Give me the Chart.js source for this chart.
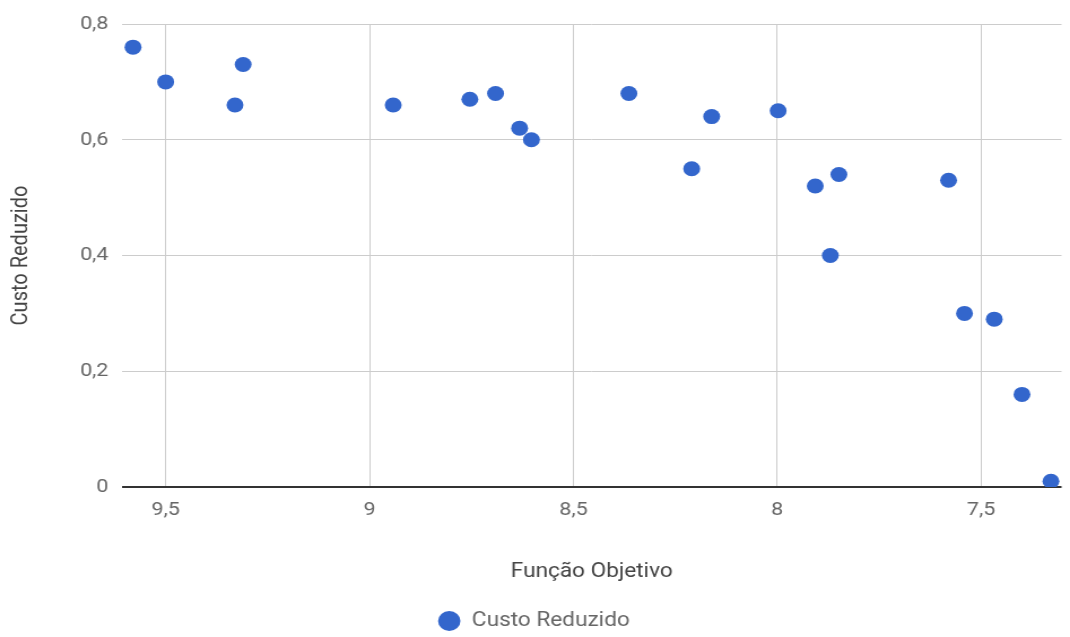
<!DOCTYPE html>
<html>
<head>
<meta charset="utf-8">
<script src="https://cdn.jsdelivr.net/npm/chart.js@4"></script>
<style>
  html, body { margin: 0; padding: 0; background: #fff; overflow: hidden; }
  #chart { display: block; }
</style>
</head>
<body>
<canvas id="chart" width="947" height="637" style="width:1070px;height:637px"></canvas>
<script>
// data
const seriesName = "Custo Reduzido";
const xTitle = "Função Objetivo";
const yTitle = "Custo Reduzido";
const funcaoObjetivo = [9.58, 9.50, 9.33, 9.31, 8.942, 8.754, 8.691, 8.632, 8.603, 8.364, 8.21, 8.161, 7.998, 7.907, 7.849, 7.87, 7.58, 7.541, 7.468, 7.40, 7.329];
const custoReduzido = [0.76, 0.70, 0.66, 0.73, 0.66, 0.67, 0.68, 0.62, 0.60, 0.68, 0.55, 0.64, 0.65, 0.52, 0.54, 0.40, 0.53, 0.30, 0.29, 0.16, 0.01];
const xTicks = [9.5, 9, 8.5, 8, 7.5];
const yTicks = [0, 0.2, 0.4, 0.6, 0.8];

const points = funcaoObjetivo.map((x, i) => ({ x: x, y: custoReduzido[i] }));
const fmt = v => String(Math.round(v * 100) / 100).replace(".", ",");
const font = "Roboto";

const canvas = document.getElementById("chart");
const chart = new Chart(canvas.getContext("2d"), {
    type: "scatter",
    data: {
        datasets: [{
            label: seriesName,
            data: points,
            backgroundColor: "#3366cc",
            borderWidth: 0,
            pointRadius: 7.5,
            pointHoverRadius: 7.5,
        }],
    },
    options: {
        responsive: false,
        animation: false,
        layout: { padding: { top: 24, right: 2, left: 0, bottom: -4 } },
        plugins: {
            tooltip: { enabled: false },
            legend: {
                position: "bottom",
                labels: {
                    usePointStyle: true,
                    pointStyle: "circle",
                    boxWidth: 20,
                    boxHeight: 14,
                    padding: 10,
                    color: "#666",
                    font: { family: font, size: 20 },
                },
            },
        },
        scales: {
            x: {
                type: "linear",
                reverse: true,
                min: 7.303,
                max: 9.607,
                afterBuildTicks: s => { s.ticks = xTicks.map(v => ({ value: v })); },
                afterFit: s => { s.height = 637 - 487 - s.chart.legend.height + 4; },
                grid: { color: "#cccccc", drawTicks: false },
                border: { display: false },
                ticks: { padding: 12, color: "#666", font: { family: font, size: 19 }, callback: v => fmt(v) },
                title: { display: true, text: xTitle, color: "#444", font: { family: font, size: 20 }, padding: { top: 0, bottom: 17 } },
            },
            y: {
                min: 0,
                max: 0.8,
                afterBuildTicks: s => { s.ticks = yTicks.map(v => ({ value: v })); },
                afterFit: s => { s.width = 108; },
                grid: {
                    color: c => (c.tick && c.tick.value === 0 ? "#333333" : "#cccccc"),
                    lineWidth: c => (c.tick && c.tick.value === 0 ? 2 : 1),
                    drawTicks: false,
                },
                border: { display: false },
                ticks: { padding: 12, color: "#666", font: { family: font, size: 19 }, callback: v => fmt(v) },
                title: { display: true, text: yTitle, color: "#444", font: { family: font, size: 20 }, padding: { top: 7, bottom: 0 } },
            },
        },
    },
});
// keep the horizontal stretch of the reference picture
canvas.style.width = "1070px";
canvas.style.height = "637px";
</script>
</body>
</html>
